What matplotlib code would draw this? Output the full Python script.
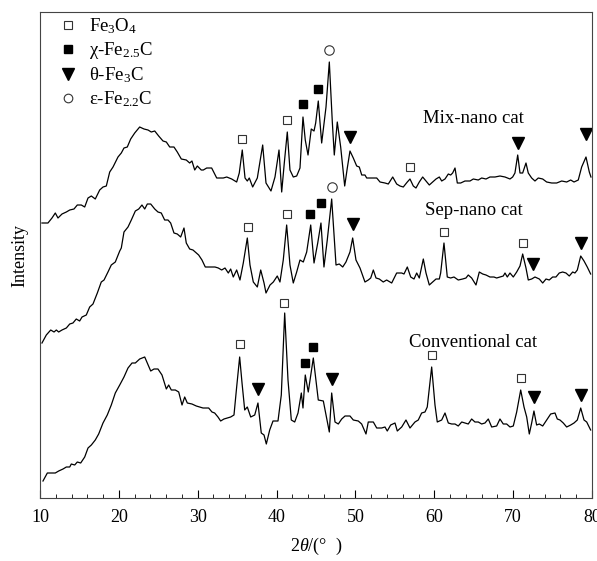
import matplotlib
matplotlib.use('Agg')
import matplotlib.pyplot as plt
from matplotlib.lines import Line2D
import numpy as np

plt.rcParams['font.family'] = ['Liberation Serif', 'DejaVu Serif']
plt.rcParams['mathtext.fontset'] = 'custom'
plt.rcParams['mathtext.rm'] = 'Liberation Serif'
plt.rcParams['mathtext.it'] = 'Liberation Serif:italic'

# ---- XRD traces (2theta in deg, intensity in a.u., offset already included) ----
mix_tt = [10.25, 11.01, 11.52, 11.94, 12.28, 12.79, 13.34, 13.77, 14.31, 14.73, 15.24, 15.67, 16.09, 16.51,
          17.01, 17.57, 17.99, 18.41, 18.84, 19.26, 19.89, 20.31, 20.65, 21.07, 21.50, 22.01, 22.64, 23.19,
          23.70, 24.11, 24.55, 25.05, 25.60, 26.02, 26.45, 26.99, 27.41, 27.92, 28.55, 28.98, 29.27, 29.62,
          29.95, 30.45, 30.71, 31.14, 31.77, 32.41, 33.24, 33.68, 34.31, 34.94, 35.27, 35.65, 36.00, 36.29,
          36.54, 36.97, 37.56, 38.24, 38.66, 39.29, 39.80, 40.31, 40.65, 40.98, 41.36, 41.70, 42.12, 42.55,
          42.97, 43.35, 43.64, 43.99, 44.40, 44.75, 44.96, 45.29, 45.72, 46.27, 46.69, 47.07, 47.32, 47.70,
          48.13, 48.64, 48.97, 49.31, 49.73, 50.16, 50.49, 50.80, 51.21, 51.43, 52.70, 53.12, 53.75, 54.17,
          54.73, 55.23, 55.65, 56.07, 56.58, 56.92, 57.34, 57.68, 58.10, 58.53, 58.95, 59.37, 59.80, 60.22,
          60.64, 60.94, 61.36, 61.78, 62.08, 62.33, 62.63, 62.92, 63.35, 63.89, 64.53, 64.95, 65.58, 66.01,
          66.56, 67.06, 67.70, 68.33, 68.97, 69.60, 69.94, 70.23, 70.58, 70.87, 71.21, 71.63, 71.92, 72.35,
          72.77, 73.19, 73.75, 74.25, 74.89, 75.52, 76.16, 76.79, 77.30, 77.72, 78.26, 78.69, 79.24, 79.66,
          79.87]
mix_int = [275, 275, 280, 285, 280, 284, 286, 288, 289, 293, 293, 291, 300, 302,
           299, 308, 311, 312, 326, 331, 341, 345, 350, 351, 359, 365, 371, 369,
           368, 366, 367, 362, 357, 356, 351, 351, 346, 339, 338, 335, 337, 328,
           332, 328, 328, 330, 330, 320, 320, 321, 319, 316, 325, 348, 320, 317,
           320, 311, 320, 353, 315, 307, 321, 348, 306, 335, 366, 328, 321, 322,
           330, 381, 358, 343, 369, 367, 375, 397, 355, 391, 436, 376, 343, 376,
           351, 312, 330, 347, 340, 332, 331, 323, 323, 320, 320, 316, 315, 314,
           321, 314, 312, 311, 316, 319, 312, 310, 316, 321, 317, 313, 316, 319,
           321, 317, 319, 324, 323, 325, 330, 315, 315, 317, 317, 319, 318, 320,
           319, 321, 321, 322, 321, 319, 321, 325, 343, 325, 325, 335, 325, 320,
           317, 320, 319, 316, 315, 315, 317, 316, 318, 316, 318, 331, 341, 326,
           321]

sep_tt = [10.25, 10.80, 11.36, 11.78, 12.07, 12.37, 12.79, 13.34, 13.77, 14.18, 14.60, 15.03, 15.33, 15.87,
          16.30, 16.72, 17.27, 17.77, 18.12, 18.62, 19.04, 19.55, 20.11, 20.31, 20.65, 21.16, 21.58, 22.09,
          22.52, 22.93, 23.28, 23.61, 24.04, 24.55, 24.96, 25.38, 25.81, 26.23, 26.57, 26.99, 27.41, 27.84,
          28.26, 28.55, 28.98, 29.40, 29.69, 30.12, 30.54, 30.96, 31.56, 32.19, 32.61, 33.04, 33.46, 33.88,
          34.18, 34.51, 34.94, 35.36, 35.78, 36.29, 36.63, 37.05, 37.56, 37.99, 38.41, 38.66, 39.17, 39.59,
          40.09, 40.43, 40.85, 41.28, 41.70, 42.12, 42.55, 42.97, 43.39, 43.82, 44.33, 44.75, 45.22, 45.63,
          46.01, 46.43, 46.99, 47.54, 47.95, 48.39, 48.80, 49.31, 49.65, 50.07, 50.58, 51.21, 51.63, 51.94,
          52.27, 52.61, 53.03, 53.53, 53.96, 54.60, 55.23, 55.87, 56.16, 56.58, 57.01, 57.43, 57.77, 58.10,
          58.61, 58.95, 59.37, 59.80, 60.22, 60.64, 60.81, 61.23, 61.65, 62.08, 62.50, 63.04, 63.60, 64.02,
          64.31, 64.74, 65.29, 65.71, 66.14, 66.56, 67.06, 67.57, 67.91, 68.33, 68.75, 68.97, 69.26, 69.60,
          70.02, 70.45, 70.87, 71.21, 71.63, 71.92, 72.35, 72.77, 73.32, 73.75, 74.17, 74.58, 75.01, 75.43,
          75.85, 76.28, 76.70, 77.12, 77.55, 77.84, 78.14, 78.57, 78.99, 79.40, 79.83]
sep_int = [155, 163, 168, 166, 168, 166, 168, 170, 174, 175, 179, 177, 181, 183,
           191, 194, 205, 216, 218, 226, 233, 236, 247, 250, 266, 271, 278, 287,
           289, 293, 289, 294, 294, 289, 286, 285, 278, 278, 275, 265, 264, 261,
           270, 255, 249, 248, 246, 243, 238, 231, 231, 231, 230, 228, 230, 225,
           229, 221, 228, 218, 235, 260, 233, 216, 211, 228, 215, 205, 213, 216,
           222, 216, 238, 273, 233, 215, 226, 238, 236, 246, 273, 235, 255, 275,
           231, 258, 299, 233, 234, 231, 236, 246, 260, 238, 230, 216, 218, 220,
           228, 220, 219, 216, 218, 215, 225, 225, 224, 231, 221, 219, 225, 220,
           239, 225, 213, 216, 219, 219, 225, 255, 221, 220, 221, 218, 219, 220,
           223, 220, 213, 226, 224, 223, 221, 221, 220, 221, 222, 225, 221, 225,
           221, 226, 232, 244, 230, 218, 219, 221, 219, 215, 219, 218, 221, 221,
           225, 226, 225, 222, 226, 225, 228, 242, 237, 231, 224]

conv_tt = [10.38, 10.93, 11.43, 11.94, 12.37, 12.92, 13.34, 13.77, 13.97, 14.40, 14.73, 15.16, 15.67, 16.09,
           16.51, 17.01, 17.44, 17.99, 18.53, 19.04, 19.55, 20.11, 20.65, 21.16, 21.67, 22.09, 22.64, 23.28,
           23.61, 24.04, 24.46, 24.96, 25.47, 26.02, 26.32, 26.65, 27.16, 27.59, 28.01, 28.35, 28.68, 29.27,
           29.82, 30.25, 30.67, 31.39, 31.81, 32.15, 32.57, 32.91, 33.33, 33.75, 34.18, 34.60, 34.94, 35.32,
           35.62, 35.96, 36.29, 36.72, 37.23, 37.64, 38.06, 38.41, 38.70, 39.13, 39.55, 40.18, 40.60, 41.03,
           41.45, 41.87, 42.30, 42.72, 43.14, 43.35, 43.64, 44.02, 44.66, 45.29, 45.93, 46.27, 46.69, 46.99,
           47.41, 47.83, 48.26, 48.68, 49.31, 49.73, 50.36, 50.79, 51.34, 51.63, 52.27, 52.70, 53.33, 53.75,
           54.04, 54.47, 55.02, 55.31, 55.87, 56.41, 56.92, 57.55, 57.97, 58.40, 58.82, 59.11, 59.67, 60.09,
           60.38, 60.94, 61.36, 61.78, 62.21, 62.63, 63.04, 63.48, 63.89, 64.31, 64.74, 65.16, 65.58, 66.01,
           66.43, 66.85, 67.28, 67.91, 68.33, 68.75, 69.18, 69.60, 70.02, 70.45, 70.96, 71.38, 71.72, 72.05,
           72.35, 72.64, 72.98, 73.32, 73.75, 74.25, 74.76, 75.31, 75.60, 75.94, 76.36, 76.79, 77.30, 77.72,
           78.14, 78.57, 78.99, 79.33, 79.83]
conv_int = [17, 25, 25, 25, 27, 29, 31, 31, 34, 33, 36, 35, 41, 50,
            53, 58, 64, 75, 83, 93, 105, 113, 121, 130, 135, 135, 139, 141,
            135, 127, 129, 129, 123, 109, 113, 108, 108, 106, 93, 101, 95, 94,
            92, 91, 90, 90, 86, 85, 81, 77, 79, 80, 81, 83, 111, 141,
            115, 88, 91, 81, 83, 95, 65, 63, 54, 68, 77, 77, 103, 185,
            118, 78, 76, 85, 105, 90, 123, 106, 140, 98, 97, 83, 66, 105,
            76, 74, 79, 82, 82, 78, 77, 74, 64, 76, 76, 70, 70, 71,
            67, 73, 75, 67, 71, 78, 70, 76, 78, 85, 86, 91, 131, 93,
            76, 78, 85, 75, 74, 74, 72, 76, 75, 74, 79, 76, 76, 74,
            75, 79, 71, 72, 79, 74, 74, 71, 72, 86, 108, 91, 81, 64,
            75, 87, 73, 74, 72, 78, 84, 85, 79, 78, 75, 71, 73, 75,
            78, 90, 78, 76, 68]

# ---- phase marks (2theta, intensity) for each sample ----
fe3o4_tt = [35.65, 41.28, 56.92, 36.34, 41.28, 61.27, 71.29, 35.32, 40.94, 59.67, 70.96]
fe3o4_int = [359, 378, 331, 271, 284, 266, 255, 154, 195, 143, 120]
chi_tt = [43.31, 45.29, 44.24, 45.63, 43.60, 44.66]
chi_int = [394, 409, 284, 295, 135, 151]
theta_tt = [49.31, 70.58, 79.24, 49.65, 72.55, 78.60, 37.64, 46.99, 72.64, 78.57]
theta_int = [361, 355, 364, 274, 234, 255, 109, 119, 101, 103]
eps_tt = [46.65, 46.99]
eps_int = [448, 311]

sample_names = ['Mix-nano cat', 'Sep-nano cat', 'Conventional cat']
label_tt = [65.0, 65.0, 64.9]
label_int = [380, 288, 156]

fig = plt.figure(figsize=(5.97, 5.61), dpi=100)
ax = fig.add_axes([0.067, 0.1123, 0.9246, 0.8663])

for tt, inten in [(mix_tt, mix_int), (sep_tt, sep_int), (conv_tt, conv_int)]:
    ax.plot(tt, inten, color='black', lw=0.9)

ax.plot(fe3o4_tt, fe3o4_int, 's', ms=6.2, mfc='white', mec='#333333', mew=0.8, ls='none')
ax.plot(chi_tt, chi_int, 's', ms=6.2, color='black', ls='none')
ax.plot(theta_tt, theta_int, 'v', ms=8, color='black', ls='none')
ax.plot(eps_tt, eps_int, 'o', ms=6.8, mfc='white', mec='#333333', mew=0.8, ls='none')

for name, x, y in zip(sample_names, label_tt, label_int):
    ax.text(x, y, name, ha='center', va='center', fontsize=13.5)

handles = [
    Line2D([], [], marker='s', ms=6.2, mfc='white', mec='#333333', mew=0.8, ls='none'),
    Line2D([], [], marker='s', ms=6.2, color='black', ls='none'),
    Line2D([], [], marker='v', ms=8, color='black', ls='none'),
    Line2D([], [], marker='o', ms=6.2, mfc='white', mec='#333333', mew=0.8, ls='none'),
]
labels = ['Fe$_3$O$_4$', 'χ-Fe$_{2.5}$C', 'θ-Fe$_3$C', 'ε-Fe$_{2.2}$C']
ax.legend(handles, labels, loc='upper left', frameon=False, fontsize=13.5,
          handlelength=1.0, handletextpad=0.6, labelspacing=0.22,
          borderaxespad=0.0, bbox_to_anchor=(0.020, 1.006))

ax.set_xlim(10, 80)
ax.set_ylim(0, 486)
ax.set_xticks(np.arange(10, 81, 10))
ax.set_xticks(np.arange(10, 81, 2), minor=True)
ax.set_yticks([])
ax.tick_params(axis='x', which='major', direction='in', length=6, width=0.8, labelsize=13, pad=8)
ax.tick_params(axis='x', which='minor', direction='in', length=3, width=0.6)
for sp in ax.spines.values():
    sp.set_linewidth(0.8)
    sp.set_color('#444444')

ax.set_xlabel(r'2$\theta$/(°  )', fontsize=13, labelpad=7)
ax.set_ylabel('Intensity', fontsize=13, labelpad=8)

fig.savefig('out.png', dpi=100)
